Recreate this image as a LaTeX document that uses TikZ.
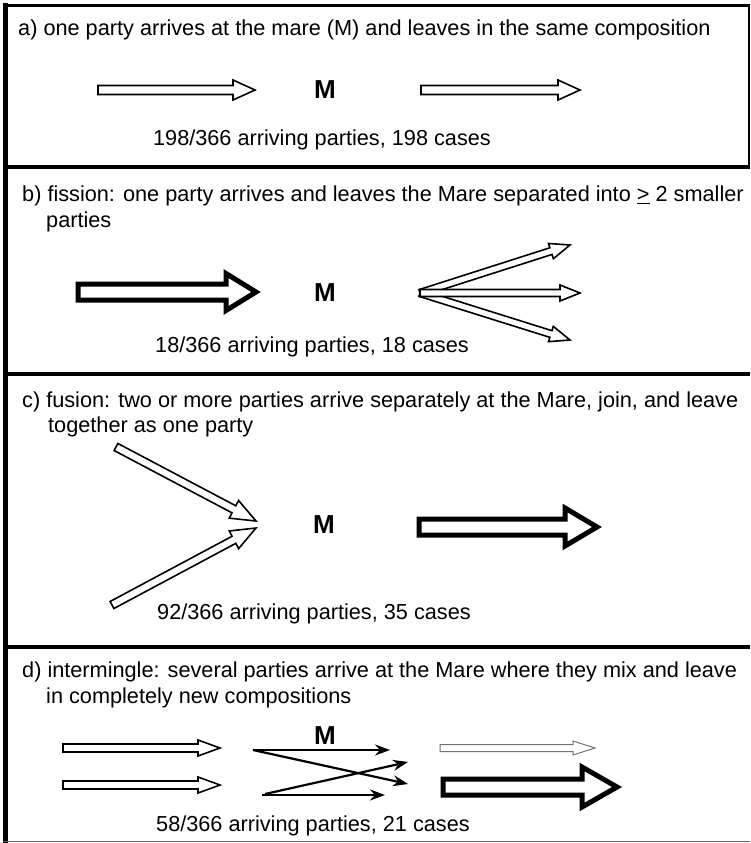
\documentclass[tikz,border=0pt]{standalone}
\usepackage{fontspec}
\setmainfont{Liberation Sans}
\usetikzlibrary{arrows.meta}
\newcommand{\barrowto}[6]{%
  \path #2 coordinate (baA) #3 coordinate (baB);
  \pgfpointdiff{\pgfpointanchor{baA}{center}}{\pgfpointanchor{baB}{center}}%
  \pgfgetlastxy{\badx}{\bady}%
  \pgfmathsetmacro{\baang}{atan2(\bady,\badx)}%
  \pgfmathsetmacro{\balen}{veclen(\badx,\bady)}%
  \begin{scope}[shift={(baA)}, rotate=\baang, x=1pt, y=1pt]
    \draw[#1] (0,-#4) -- ({\balen-#6},-#4) -- ({\balen-#6},-#5) -- (\balen,0)
      -- ({\balen-#6},#5) -- ({\balen-#6},#4) -- (0,#4) -- cycle;
  \end{scope}%
}
\begin{document}
\begin{tikzpicture}[x=1pt,y=-1pt,
  txt/.style={anchor=west, inner sep=0pt, font=\fontsize{21.7}{25}\selectfont},
  captxt/.style={anchor=center, inner sep=0pt, font=\fontsize{21.7}{25}\selectfont},
  mlabel/.style={inner sep=0pt, font=\fontsize{26}{28}\selectfont\bfseries},
  thinbar/.style={draw=black, fill=white, line width=1.6pt, miter limit=10},
  thickbar/.style={draw=black, fill=white, line width=5pt, miter limit=10},
  greybar/.style={draw=black!55, fill=white, line width=1pt, miter limit=10},
  sep/.style={line width=4.5pt},
  linearr/.style={line width=2.2pt, -{Stealth[length=15pt,width=11pt]}}
]
\path[fill=white, use as bounding box] (0,0) rectangle (750,843);

% frame
\draw[line width=3.5pt] (3,5.5) -- (750,5.5);
\draw[line width=5pt] (5.5,3) -- (5.5,843);
\draw[line width=2.5pt] (748.8,4) -- (748.8,167);
\draw[sep] (3,167) -- (750,167);
\draw[sep] (3,374) -- (750,374);
\draw[sep] (3,647) -- (750,647);
\draw[line width=1.5pt, black!60] (3,841.5) -- (750,841.5);

% ---------- panel a
\node[txt] (ta) at (18,30) {a) one party arrives at the mare (M) and leaves in the same composition};
\coordinate (a1s) at (98,90);  \coordinate (a1e) at (255,90);
\coordinate (a2s) at (421,90); \coordinate (a2e) at (580,90);
\barrowto{thinbar}{(a1s)}{(a1e)}{4.5}{10}{22}
\barrowto{thinbar}{(a2s)}{(a2e)}{4.5}{10}{22}
\node[mlabel] (ma) at (325,90) {M};
\node[captxt] (ca) at (322,140) {198/366 arriving parties, 198 cases};

% ---------- panel b
\node[txt] (tb1) at (22,196) {b) fission: one party arrives and leaves the Mare separated into \underline{>} 2 smaller};
\node[txt] (tb2) at (46,222) {parties};
\coordinate (b0s) at (78,292); \coordinate (b0e) at (256,292);
\barrowto{thickbar}{(b0s)}{(b0e)}{8}{18.5}{30}
\node[mlabel] (mb) at (325,293) {M};
\coordinate (bo) at (420,293);
\coordinate (bu) at (570,245);
\coordinate (bm) at (580,293);
\coordinate (bl) at (570,340);
\barrowto{thinbar}{(bo)}{(bu)}{3.5}{8}{20}
\barrowto{thinbar}{(bo)}{(bl)}{3.5}{8}{20}
\barrowto{thinbar}{(bo)}{(bm)}{3.5}{8}{20}
\node[captxt] (cb) at (312,347) {18/366 arriving parties, 18 cases};

% ---------- panel c
\node[txt] (tc1) at (22,402) {c) fusion: two or more parties arrive separately at the Mare, join, and leave};
\node[txt] (tc2) at (48,427) {together as one party};
\coordinate (c1s) at (116,447); \coordinate (c1e) at (256,521);
\coordinate (c2s) at (112,605); \coordinate (c2e) at (256,528);
\barrowto{thinbar}{(c1s)}{(c1e)}{4}{10}{25}
\barrowto{thinbar}{(c2s)}{(c2e)}{4}{10}{25}
\node[mlabel] (mc) at (324,525) {M};
\coordinate (c3s) at (419,527); \coordinate (c3e) at (597,527);
\barrowto{thickbar}{(c3s)}{(c3e)}{8}{19}{32}
\node[captxt] (cc) at (314,614) {92/366 arriving parties, 35 cases};

% ---------- panel d
\node[txt] (td1) at (22,672) {d) intermingle: several parties arrive at the Mare where they mix and leave};
\node[txt] (td2) at (46,698) {in completely new compositions};
\coordinate (d1s) at (63,748); \coordinate (d1e) at (220,748);
\coordinate (d2s) at (63,785); \coordinate (d2e) at (220,785);
\barrowto{thinbar}{(d1s)}{(d1e)}{4}{8}{22}
\barrowto{thinbar}{(d2s)}{(d2e)}{4}{8}{22}
\node[mlabel] (md) at (325,736) {M};
\coordinate (x1s) at (253,750); \coordinate (x1e) at (390,750);
\coordinate (x2e) at (408,784);
\coordinate (x3s) at (265,794); \coordinate (x3e) at (408,762);
\coordinate (x4s) at (262,795); \coordinate (x4e) at (385,795);
\draw[linearr] (x1s) -- (x1e);
\draw[linearr] (x1s) -- (x2e);
\draw[linearr] (x3s) -- (x3e);
\draw[linearr] (x4s) -- (x4e);
\coordinate (d3s) at (440,748); \coordinate (d3e) at (595,748);
\barrowto{greybar}{(d3s)}{(d3e)}{3.5}{7}{22}
\coordinate (d4s) at (443,787); \coordinate (d4e) at (617,787);
\barrowto{thickbar}{(d4s)}{(d4e)}{8}{20}{35}
\node[captxt] (cd) at (313,826) {58/366 arriving parties, 21 cases};
\end{tikzpicture}
\end{document}
